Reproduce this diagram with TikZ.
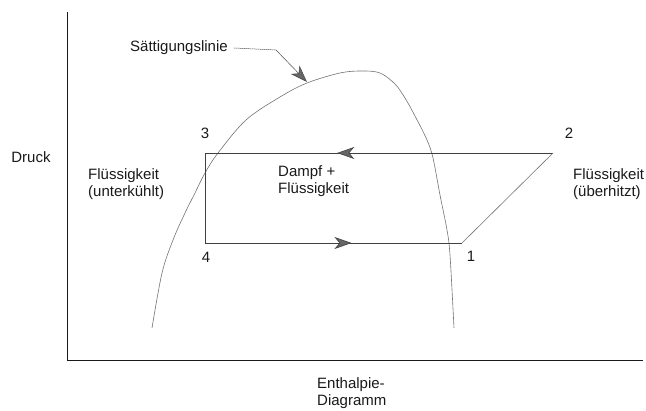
\documentclass[tikz,border=0pt]{standalone}
\usepackage{fontspec}
\setmainfont{Liberation Sans}
\usetikzlibrary{arrows.meta,decorations.markings}
\tikzset{mytip/.tip={Stealth[length=17pt,width=12pt,inset=5pt,fill=black!60,line width=0.6pt]}}
\begin{document}
\begin{tikzpicture}[x=1pt,y=-1pt,
  lbl/.style={inner sep=0pt,align=left,font=\fontsize{15}{17}\selectfont,text=black!90},
  axis/.style={black!90,line width=1pt},
  cyc/.style={black!75,line width=0.8pt},
  sat/.style={black!55,line width=0.6pt},
  midarrow/.style={postaction={decorate,decoration={markings,mark=at position #1 with {\arrow{mytip}}}}}
]
\useasboundingbox (0,0) rectangle (646,411);
% axes
\coordinate (ytop) at (67,12);
\coordinate (orig) at (67,361);
\coordinate (xend) at (643,361);
\draw[axis] (ytop) -- (orig) -- (xend);
% saturation curve
\draw[sat] plot[smooth,tension=0.55] coordinates {(152,328) (162,273) (173,240) (185,213) (195,193) (205,173) (218,153) (246,120) (280,97) (307,83) (340,73) (362,71) (380,73) (395,84) (405,98) (415,116) (427,140) (433,158) (440,195) (447,230) (450,255) (454,328)};
% cycle points
\coordinate (p1) at (462,243);
\coordinate (p2) at (553,153);
\coordinate (p3) at (205,153);
\coordinate (p4) at (205,243);
\draw[cyc,midarrow=0.62] (p2) -- (p3);
\draw[cyc] (p3) -- (p4);
\draw[cyc,midarrow=0.57] (p4) -- (p1);
\draw[cyc,black!55,line width=0.6pt] (p1) -- (p2);
% labels
\node[lbl] (n3) at (205,133) {3};
\node[lbl] (n2) at (569,133) {2};
\node[lbl] (n4) at (206,257) {4};
\node[lbl] (n1) at (471,256) {1};
\node[lbl] (druck) at (31,157) {Druck};
\node[lbl,anchor=west] (fu) at (88,184) {Flüssigkeit\\(unterkühlt)};
\node[lbl,anchor=west] (df) at (278,181) {Dampf +\\Flüssigkeit};
\node[lbl,anchor=west] (fue) at (573,184) {Flüssigkeit\\(überhitzt)};
\node[lbl,anchor=west] (enth) at (317,393) {Enthalpie-\\Diagramm};
\node[lbl,anchor=west] (satl) at (130,48) {Sättigungslinie};
\coordinate (satpt) at (307,82);
\coordinate (bend) at (276,50);
\draw[black!70,line width=0.5pt,dash pattern=on 1.5pt off 0.5pt] (satl.east) ++(6,0) -- (bend);
\draw[black!70,line width=0.5pt,-{mytip}] (bend) -- (satpt);
\end{tikzpicture}
\end{document}
